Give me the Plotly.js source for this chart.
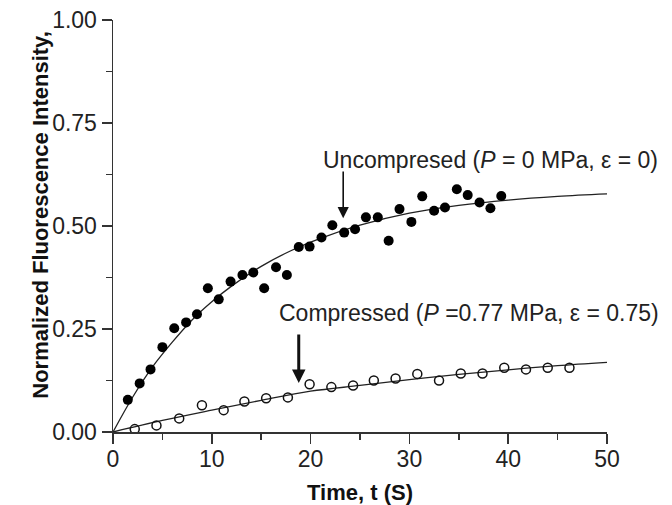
<!DOCTYPE html>
<html>
<head>
<meta charset="utf-8">
<script src="https://cdn.plot.ly/plotly-3.0.1.min.js"></script>
<style>
  html, body { margin: 0; padding: 0; background: #ffffff; }
  #chart { width: 672px; height: 505px; }
</style>
</head>
<body>
<div id="chart"></div>
<script>
// ---- Data ----
// Uncompressed (P = 0 MPa) measured points
const uncompTime = [1.5, 2.7, 3.8, 5.0, 6.2, 7.4, 8.5, 9.6, 10.7, 11.9, 13.1, 14.2, 15.3, 16.5, 17.6,
                    18.8, 19.9, 21.1, 22.2, 23.4, 24.5, 25.6, 26.8, 27.9, 29.0, 30.2, 31.3, 32.5,
                    33.6, 34.8, 35.9, 37.1, 38.2, 39.3];
const uncompValue = [0.078, 0.118, 0.152, 0.206, 0.252, 0.266, 0.286, 0.349, 0.322, 0.365, 0.381, 0.387,
                     0.349, 0.400, 0.381, 0.449, 0.450, 0.472, 0.502, 0.484, 0.492, 0.521, 0.521, 0.464,
                     0.541, 0.510, 0.572, 0.537, 0.545, 0.589, 0.575, 0.557, 0.543, 0.573];

// Compressed (P = 0.77 MPa) measured points
const compTime = [2.2, 4.4, 6.7, 9.0, 11.2, 13.3, 15.5, 17.7, 19.9, 22.1, 24.3, 26.4, 28.6, 30.8,
                  33.0, 35.2, 37.4, 39.6, 41.8, 44.0, 46.2];
const compValue = [0.007, 0.016, 0.033, 0.065, 0.053, 0.074, 0.082, 0.084, 0.116, 0.109, 0.113, 0.125,
                   0.130, 0.141, 0.125, 0.142, 0.142, 0.156, 0.152, 0.156, 0.156];

// Fitted curves
const uncompFitTime = [0, 2, 4, 6, 8, 10, 12, 15, 18, 21, 25, 30, 35, 40, 45, 50];
const uncompFitValue = [0, 0.085, 0.158, 0.218, 0.272, 0.316, 0.354, 0.402, 0.440, 0.470, 0.502,
                        0.531, 0.550, 0.563, 0.572, 0.578];
const compFitTime = [0, 5, 10, 15, 20, 25, 30, 35, 40, 45, 50];
const compFitValue = [0, 0.028, 0.053, 0.077, 0.099, 0.113, 0.127, 0.140, 0.151, 0.161, 0.169];

// Axis tick labels
const xTickVals = [0, 10, 20, 30, 40, 50];
const yTickVals = [0.00, 0.25, 0.50, 0.75, 1.00];

// Labels
const uncompLabel = 'Uncompresed (<i>P</i> = 0 MPa, ε = 0)';
const compLabel = 'Compressed (<i>P</i> =0.77 MPa, ε = 0.75)';
const xTitle = '<b>Time, t (S)</b>';
const yTitle = '<b>Normalized Fluorescence Intensity,</b>';

// Annotation anchor points (data values)
const uncompArrow = { x: 23.3, tip: 0.519, tail: 0.636 };
const compArrow = { x: 18.8, tip: 0.119, tail: 0.240 };

const FONT = 'Liberation Sans, Arial, Helvetica, sans-serif';
const AXC = '#333333';

const traces = [
  { x: uncompFitTime, y: uncompFitValue, mode: 'lines', line: { color: '#222', width: 1.3, shape: 'spline', smoothing: 1 }, hoverinfo: 'skip' },
  { x: compFitTime, y: compFitValue, mode: 'lines', line: { color: '#222', width: 1.3, shape: 'spline', smoothing: 1 }, hoverinfo: 'skip' },
  { x: uncompTime, y: uncompValue, mode: 'markers', name: 'Uncompressed',
    marker: { symbol: 'circle', size: 10, color: '#000000', line: { width: 0 } } },
  { x: compTime, y: compValue, mode: 'markers', name: 'Compressed',
    marker: { symbol: 'circle-open', size: 9, color: '#111111', line: { width: 1.5, color: '#111111' } } }
];

const layout = {
  width: 672, height: 505,
  margin: { l: 113, r: 65, t: 20, b: 73, pad: 0 },
  paper_bgcolor: '#ffffff', plot_bgcolor: '#ffffff',
  showlegend: false,
  font: { family: FONT, color: '#222' },
  xaxis: {
    range: [0, 50], tickvals: xTickVals, ticktext: xTickVals.map(String),
    ticks: 'outside', ticklen: 10, tickwidth: 1.5, tickcolor: AXC,
    ticklabelstandoff: -4,
    showline: true, linecolor: AXC, linewidth: 1.5, mirror: false,
    showgrid: false, zeroline: false,
    tickfont: { size: 23, family: FONT, color: '#222' },
    minor: { dtick: 5, ticks: 'outside', ticklen: 6, tickwidth: 1.5, tickcolor: AXC, showgrid: false },
    title: { text: xTitle, font: { size: 22, family: FONT, color: '#111' }, standoff: 16 }
  },
  yaxis: {
    range: [0, 1], tickvals: yTickVals, ticktext: yTickVals.map(v => v.toFixed(2)),
    ticks: 'outside', ticklen: 10, tickwidth: 1.5, tickcolor: AXC,
    showline: true, linecolor: AXC, linewidth: 1.5, mirror: false,
    showgrid: false, zeroline: false,
    tickfont: { size: 23, family: FONT, color: '#222' },
    minor: { dtick: 0.125, ticks: 'outside', ticklen: 6, tickwidth: 1.5, tickcolor: AXC, showgrid: false }
  },
  annotations: [
    { text: yTitle, xref: 'paper', yref: 'paper', x: -0.146, y: 0.527, textangle: -90,
      xanchor: 'center', yanchor: 'middle', showarrow: false,
      font: { size: 22, family: FONT, color: '#111' } },
    { text: uncompLabel, xref: 'x', yref: 'y', x: 38.2, y: 0.660, xanchor: 'center', yanchor: 'middle',
      showarrow: false, font: { size: 23, family: FONT, color: '#222' } },
    { text: compLabel, xref: 'x', yref: 'y', x: 36.0, y: 0.289, xanchor: 'center', yanchor: 'middle',
      showarrow: false, font: { size: 23, family: FONT, color: '#222' } },
    { text: '', xref: 'x', yref: 'y', x: uncompArrow.x, y: uncompArrow.tip,
      axref: 'x', ayref: 'y', ax: uncompArrow.x, ay: uncompArrow.tail,
      showarrow: true, arrowhead: 2, arrowsize: 1.4, arrowwidth: 1.6, arrowcolor: '#111' },
    { text: '', xref: 'x', yref: 'y', x: compArrow.x, y: compArrow.tip,
      axref: 'x', ayref: 'y', ax: compArrow.x, ay: compArrow.tail,
      showarrow: true, arrowhead: 2, arrowsize: 0.9, arrowwidth: 3, arrowcolor: '#111' }
  ]
};

Plotly.newPlot('chart', traces, layout, { displayModeBar: false, staticPlot: true });
</script>
</body>
</html>
